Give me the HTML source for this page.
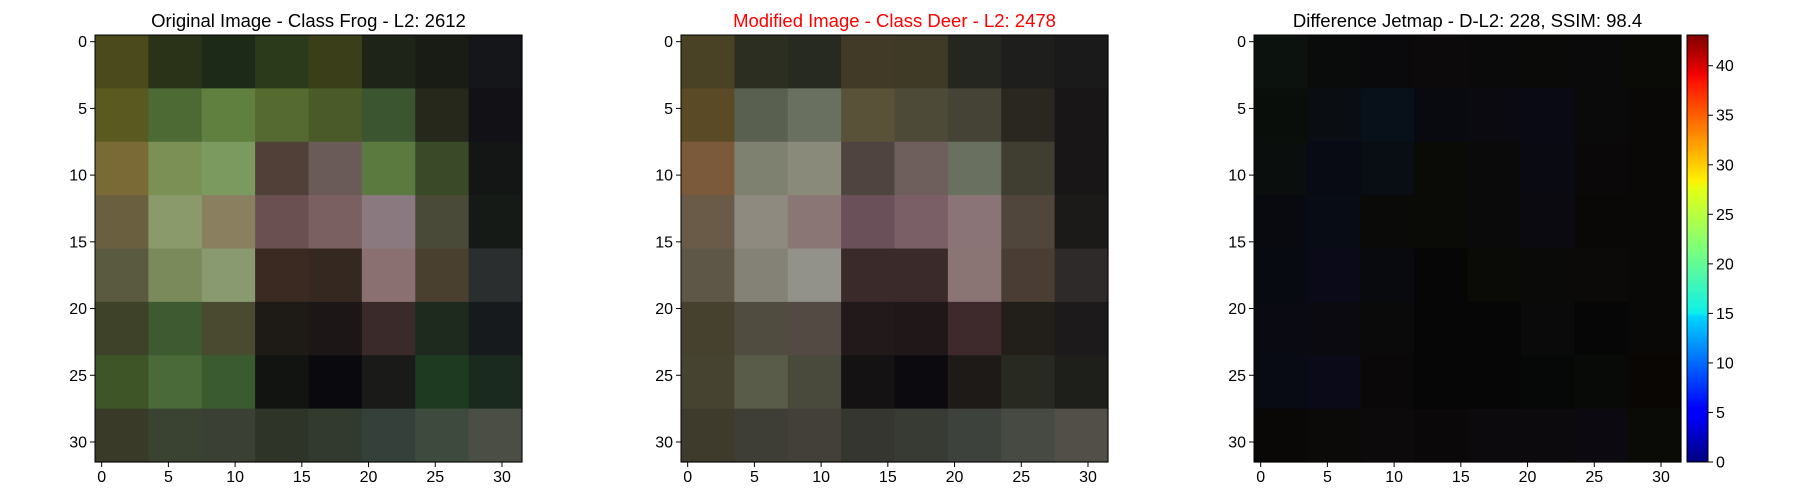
<!DOCTYPE html>
<html><head><meta charset="utf-8"><style>
html,body{margin:0;padding:0;background:#fff;}
svg{display:block;font-family:"Liberation Sans","DejaVu Sans",sans-serif;}
</style></head><body>
<svg id="fig" width="1800" height="500" viewBox="0 0 1800 500" xmlns="http://www.w3.org/2000/svg"></svg>
<script>
// Coarse 8x8 estimates of each 32x32 image (each cell = 4x4 source pixels)
const originalImage = [
["#4a4a1c","#2a3318","#1e2a18","#2a3a1a","#3a3f1a","#1e2418","#181c14","#14161a"],
["#5a5a20","#4d6a35","#60803f","#556a30","#4a5a28","#3a5530","#25281a","#121216"],
["#7a6a35","#7a9055","#7a9a60","#504038","#6a5a58","#5a7a40","#3a4a28","#141616"],
["#6a6040","#8a9a6a","#8a8060","#6a5050","#7a6060","#8a7a80","#4a4a38","#161a16"],
["#5a5a40","#7a8a5a","#8a9a70","#3a2a22","#352820","#8a7070","#4a4030","#2a2e2e"],
["#3e4228","#3e5a30","#4a4a30","#1e1a16","#1c1616","#3a2a2a","#1e2a1e","#161a1c"],
["#3e5528","#4a6a3a","#3a5a30","#121412","#0a0a0e","#1a1a18","#1e3a20","#1a2a1e"],
["#3a3a28","#3a4232","#3a4034","#2e3428","#323a30","#36403a","#3e4a3e","#4a4e44"]
];
const modifiedImage = [
["#4a4224","#2c2e22","#262a20","#403a26","#3e3a26","#262620","#1e1e1c","#1a1a1a"],
["#5a4a26","#5a6050","#6a7060","#5a5238","#4e4a38","#454236","#2a2620","#181616"],
["#7a5a3a","#7e8070","#8a8a7a","#504440","#6e5e5c","#6a7060","#403e30","#181616"],
["#6a5a48","#8e8a80","#8a7674","#6a5058","#7a6066","#8a7478","#50463c","#1c1a18"],
["#5e5646","#848276","#92928a","#3a2a2a","#3a2a2a","#8a7474","#4a3e34","#2e2a2a"],
["#46402e","#504c40","#544a44","#221a1a","#201818","#3e2a2c","#221e1a","#1c1a1a"],
["#464430","#5a5c4a","#4a4a3c","#141212","#0c0a0e","#1e1a18","#282a22","#1e1e1a"],
["#3e3a2c","#3e3e36","#424038","#363630","#383a34","#3e423c","#464a42","#524e48"]
];
const diffImage = [
["#0c120e","#0a0c0c","#0a0a0c","#0c0a0a","#0a0a0a","#0a0a08","#0a0a0a","#0a0a06"],
["#0a0e0a","#0a0e12","#08101a","#080a10","#0a0a10","#0a0a14","#0a0a0a","#0a0806"],
["#0a0e0c","#080a14","#080e14","#0a0a06","#0a0a0a","#0a0a12","#0a0808","#0a0806"],
["#080a10","#080c14","#0a0a08","#0a0a06","#0a0a0a","#0a0a10","#0a0806","#0a0806"],
["#080a12","#0a0a18","#080a0e","#060606","#0a0a06","#0a0a08","#0c0a08","#0a0806"],
["#0a0a12","#0a0a10","#0a0a0a","#060606","#060606","#0a0a0a","#060606","#0a0806"],
["#080a14","#0a0a18","#0a0808","#060606","#060606","#060808","#080a08","#0a0604"],
["#0a0806","#0c0a08","#0c0a0a","#0a0808","#0c0a0c","#0c0a0c","#0c0a10","#0a0a06"]
];
const tickValues = [0,5,10,15,20,25,30];
const colorbarTicks = [0,5,10,15,20,25,30,35,40];
const colorbarMax = 43.1;
const titles = ["Original Image - Class Frog - L2: 2612","Modified Image - Class Deer - L2: 2478","Difference Jetmap - D-L2: 228, SSIM: 98.4"];
const titleColors = ["#000","#ff0000","#000"];

const NS="http://www.w3.org/2000/svg";
const svg=document.getElementById('fig');
function mk(tag,attrs,parent){const e=document.createElementNS(NS,tag);for(const k in attrs)e.setAttribute(k,attrs[k]);(parent||svg).appendChild(e);return e;}

const panels=[{x:95,img:originalImage,name:'original-image'},{x:681,img:modifiedImage,name:'modified-image'},{x:1254,img:diffImage,name:'difference-jetmap'}];
const Y0=35,S=427,N=32;
panels.forEach((p,pi)=>{
  const g=mk('g',{});
  
  
  const px=v=>p.x+(v+0.5)*S/N, py=v=>Y0+(v+0.5)*S/N;
  const rows=p.img.length, cols=p.img[0].length, cw=S/cols, ch=S/rows;
  p.img.forEach((row,r)=>row.forEach((c,ci)=>{
    const rc=mk('rect',{x:p.x+ci*cw,y:Y0+r*ch,width:cw+0.6,height:ch+0.6,fill:c},g);
    
    
  }));
  const fr=mk('rect',{x:p.x,y:Y0,width:S,height:S,fill:'none',stroke:'#000','stroke-width':1},g);
  
  
  tickValues.forEach(t=>{
    mk('line',{x1:px(t),x2:px(t),y1:Y0+S,y2:Y0+S+5,stroke:'#000'},g);
    const tx=mk('text',{x:px(t),y:Y0+S+20,'text-anchor':'middle','font-size':16},g);
    tx.textContent=t;
    
    
    mk('line',{x1:p.x-5,x2:p.x,y1:py(t),y2:py(t),stroke:'#000'},g);
    const ty=mk('text',{x:p.x-8,y:py(t)+5.5,'text-anchor':'end','font-size':16},g);
    ty.textContent=t;
    
    
  });
  const tt=mk('text',{x:p.x+S/2,y:27,'text-anchor':'middle','font-size':18.5,fill:titleColors[pi]},g);
  tt.textContent=titles[pi];
  
  
});
// colorbar
const cbX=1687,cbW=21;
const defs=mk('defs',{});
const lg=mk('linearGradient',{id:'jet',x1:0,y1:1,x2:0,y2:0},defs);
[["0","#00007f"],["0.11","#0000ff"],["0.125","#0000ff"],["0.34","#00d4ff"],["0.35","#0df0e9"],["0.5","#7dff7a"],["0.64","#e4ff13"],["0.66","#fff000"],["0.89","#ff1400"],["0.91","#f00000"],["1","#7f0000"]].forEach(s=>mk('stop',{offset:s[0],'stop-color':s[1]},lg));
const cb=mk('rect',{x:cbX,y:Y0,width:cbW,height:S,fill:'url(#jet)',stroke:'#000','stroke-width':1});


const cy=v=>Y0+S-v/colorbarMax*S;
colorbarTicks.forEach(t=>{
  mk('line',{x1:cbX+cbW,x2:cbX+cbW+5,y1:cy(t),y2:cy(t),stroke:'#000'});
  const tx=mk('text',{x:cbX+cbW+8,y:cy(t)+5.5,'font-size':16});
  tx.textContent=t;
  
  
});
</script>
</body></html>
